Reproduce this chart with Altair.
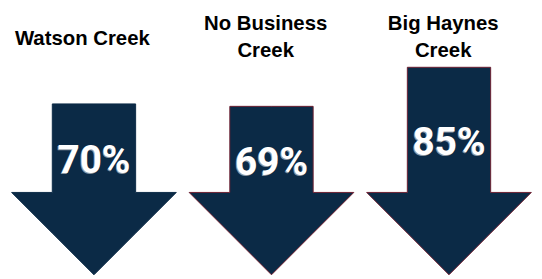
import altair as alt
import pandas as pd

# ---- data ----
categories = ["Watson Creek", "No Business Creek", "Big Haynes Creek"]
title_text = ["Watson Creek", "No Business\nCreek", "Big Haynes\nCreek"]
values = [70, 69, 85]
outlined = ["no", "yes", "yes"]

# ---- arrow shape template (scale units) ----
SHAFT_HALF = 0.2347
HEAD_HALF = 0.4638
HEAD_LEN = 33.73
EPS = 1e-4

NAVY = "#0b2a46"
MAROON = "#6e1e30"

rows = []
for i, (cat, v, o) in enumerate(zip(categories, values, outlined)):
    c = i
    e = HEAD_LEN * SHAFT_HALF / HEAD_HALF
    pts = [
        (c - HEAD_HALF, HEAD_LEN, HEAD_LEN),
        (c - SHAFT_HALF - EPS, HEAD_LEN, e),
        (c - SHAFT_HALF, v, e),
        (c, v, 0),
        (c + SHAFT_HALF, v, e),
        (c + SHAFT_HALF + EPS, HEAD_LEN, e),
        (c + HEAD_HALF, HEAD_LEN, HEAD_LEN),
    ]
    for x, y, y2 in pts:
        rows.append(dict(cat=cat, x=x, y=y, y2=y2, outline=o))
arrows = pd.DataFrame(rows)

labels = pd.DataFrame({
    "cat": categories,
    "x": list(range(len(categories))),
    "y": [(HEAD_LEN + v) / 2 for v in values],
    "label": [f"{v}%" for v in values],
    "title": title_text,
    "lines": [t.count("\n") + 1 for t in title_text],
})

xs = alt.Scale(domain=[-0.4843, 2.4297], nice=False, zero=False)
ys = alt.Scale(domain=[-0.397, 107.14], nice=False, zero=False)

arrow_layer = alt.Chart(arrows).mark_area(
    fill=NAVY, fillOpacity=1, strokeWidth=1, interpolate="linear", orient="vertical"
).encode(
    x=alt.X("x:Q", scale=xs, axis=None),
    y=alt.Y("y:Q", scale=ys, axis=None, stack=False),
    y2="y2:Q",
    detail="cat:N",
    stroke=alt.Stroke("outline:N", scale=alt.Scale(domain=["no", "yes"], range=[NAVY, MAROON]), legend=None),
)

pct_enc = dict(
    x=alt.X("x:Q", scale=xs, axis=None),
    y=alt.Y("y:Q", scale=ys, axis=None),
    text="label:N",
)
pct_shadow = alt.Chart(labels).mark_text(
    font="Roboto", fontSize=40, fontWeight="bold", color="#8e98a3",
    baseline="middle", align="center", dy=15, dx=-1,
).encode(**pct_enc)
pct_layer = alt.Chart(labels).mark_text(
    font="Roboto", fontSize=40, fontWeight="bold", color="white",
    baseline="middle", align="center", dy=14,
).encode(**pct_enc)

title_single = alt.Chart(labels).mark_text(
    font="Liberation Sans", fontSize=21, fontWeight="bold", color="#000000",
    baseline="middle", align="center", lineBreak="\n", lineHeight=28.7, dx=-12,
).transform_filter("datum.lines == 1").encode(
    x=alt.X("x:Q", scale=xs, axis=None),
    y=alt.value(27.3),
    text="title:N",
)
title_multi = alt.Chart(labels).mark_text(
    font="Liberation Sans", fontSize=21, fontWeight="bold", color="#000000",
    baseline="middle", align="center", lineBreak="\n", lineHeight=28.7, dx=-6,
).transform_filter("datum.lines > 1").encode(
    x=alt.X("x:Q", scale=xs, axis=None),
    y=alt.value(10.8),
    text="title:N",
)

chart = alt.layer(arrow_layer, pct_shadow, pct_layer, title_single, title_multi).properties(
    width=534, height=271, padding=0, background="white"
).configure_view(stroke=None)

chart.save("out.html", embed_options={"renderer": "svg", "actions": False})
